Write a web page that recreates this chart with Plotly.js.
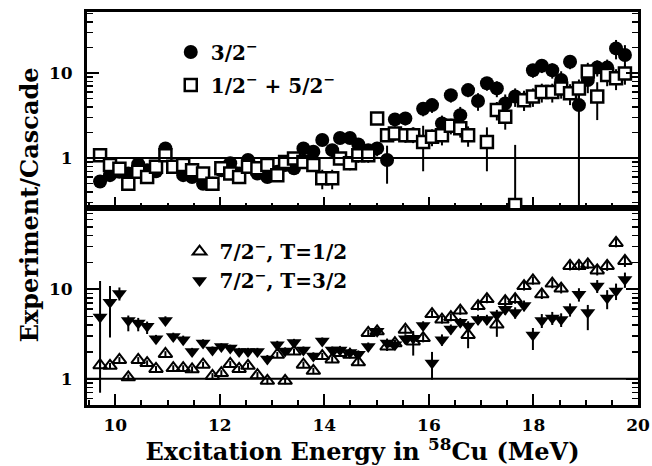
<!DOCTYPE html>
<html>
<head>
<meta charset="utf-8">
<script src="https://cdn.plot.ly/plotly-3.0.1.min.js"></script>
<style>
  html, body { margin: 0; padding: 0; background: #fff; }
  #chart { width: 652px; height: 466px; }
</style>
</head>
<body>
<div id="chart"></div>
<script>
// Bin centres (MeV) shared by all four spin groups
const energy = [9.71, 9.90, 10.08, 10.25, 10.44, 10.61, 10.78, 10.96, 11.11, 11.30,
  11.47, 11.68, 11.86, 12.03, 12.20, 12.37, 12.54, 12.72, 12.91, 13.10,
  13.25, 13.42, 13.60, 13.79, 13.96, 14.15, 14.30, 14.49, 14.65, 14.84,
  15.01, 15.20, 15.35, 15.55, 15.70, 15.89, 16.06, 16.25, 16.42, 16.60,
  16.75, 16.94, 17.11, 17.30, 17.46, 17.65, 17.82, 17.99, 18.16, 18.36,
  18.53, 18.70, 18.87, 19.04, 19.22, 19.41, 19.58, 19.75];

// Upper panel: 3/2- and 1/2- + 5/2-
const ratio32 = [0.53, 0.63, 0.69, 0.66, 0.85, 0.72, 0.70, 1.30, 0.79, 0.63,
  0.60, 0.50, 0.50, 0.72, 0.87, 0.66, 0.95, 0.66, 0.60, 0.69,
  0.83, 0.76, 1.30, 1.19, 1.63, 1.24, 1.72, 1.72, 1.45, 1.24,
  1.30, 0.95, 2.85, 2.93, 1.90, 3.8, 4.2, 2.56, 5.5, 3.2,
  6.3, 4.7, 7.6, 6.6, 4.4, 5.3, 4.9, 10.8, 12.2, 10.8,
  8.3, 13.6, 4.2, 8.3, 11.6, 11.6, 19.5, 16.3];
const err32Up = [0.04, 0.05, 0.05, 0.05, 0.06, 0.05, 0.05, 0.08, 0.05, 0.05,
  0.05, 0.04, 0.04, 0.05, 0.06, 0.05, 0.07, 0.05, 0.05, 0.06,
  0.07, 0.07, 0.18, 0.16, 0.22, 0.18, 0.25, 0.25, 0.22, 0.22,
  0.25, 0.45, 0.5, 0.5, 0.4, 0.7, 0.8, 0.6, 1.0, 0.8,
  1.1, 1.1, 1.4, 1.4, 1.2, 1.3, 1.3, 2.0, 2.2, 2.2,
  2.2, 2.5, 2.0, 2.5, 2.5, 2.8, 5.0, 5.0];
const err32Down = [0.04, 0.05, 0.05, 0.05, 0.06, 0.05, 0.05, 0.08, 0.05, 0.05,
  0.05, 0.04, 0.04, 0.05, 0.06, 0.05, 0.07, 0.05, 0.05, 0.06,
  0.07, 0.07, 0.18, 0.16, 0.22, 0.18, 0.25, 0.25, 0.22, 0.22,
  0.25, 0.45, 0.5, 0.5, 0.4, 0.7, 0.8, 0.6, 1.0, 0.8,
  1.1, 1.1, 1.4, 1.4, 1.2, 1.3, 1.3, 2.0, 2.2, 2.2,
  2.2, 2.5, 4.3, 2.5, 2.5, 2.8, 5.0, 5.0];

const ratio1252 = [1.08, 0.83, 0.75, 0.50, 0.69, 0.60, 0.79, 1.08, 0.79, 0.83,
  0.72, 0.66, 0.50, 0.76, 0.66, 0.60, 0.79, 0.76, 0.83, 0.63,
  0.90, 0.99, 0.90, 0.83, 0.58, 0.58, 0.99, 0.87, 1.08, 1.08,
  2.93, 1.86, 1.95, 1.86, 1.86, 1.55, 1.78, 1.86, 2.40, 2.24,
  1.86, null, 1.55, 3.67, 3.06, 0.28, 4.8, 5.3, 6.0, 6.0,
  6.6, 5.8, 6.6, 10.4, 5.3, 9.5, 8.7, 9.9];
const err1252Up = [0.06, 0.05, 0.05, 0.05, 0.05, 0.05, 0.05, 0.06, 0.05, 0.05,
  0.05, 0.05, 0.04, 0.05, 0.05, 0.05, 0.06, 0.06, 0.06, 0.05,
  0.08, 0.10, 0.10, 0.10, 0.15, 0.15, 0.15, 0.15, 0.2, 0.2,
  0.3, 0.3, 0.35, 0.35, 0.35, 0.85, 0.4, 0.45, 0.5, 0.5,
  0.5, 0, 0.75, 0.9, 0.9, 1.15, 1.2, 1.3, 1.5, 1.5,
  1.6, 1.6, 1.8, 2.8, 2.5, 2.5, 2.4, 2.6];
const err1252Down = [0.06, 0.05, 0.05, 0.05, 0.05, 0.05, 0.05, 0.06, 0.05, 0.05,
  0.05, 0.05, 0.04, 0.05, 0.05, 0.05, 0.06, 0.06, 0.06, 0.05,
  0.08, 0.10, 0.10, 0.10, 0.15, 0.15, 0.15, 0.15, 0.2, 0.2,
  0.3, 0.3, 0.35, 0.35, 0.35, 0.85, 0.4, 0.45, 0.5, 0.5,
  0.5, 0, 0.85, 0.9, 0.9, 0.1, 1.2, 1.3, 1.5, 1.5,
  1.6, 1.6, 1.8, 2.8, 2.5, 2.5, 2.4, 2.6];

// Lower panel: 7/2-, T=1/2 and 7/2-, T=3/2
const ratio72T12 = [1.42, 1.40, 1.63, 1.04, 1.63, 1.50, 1.29, 1.90, 1.32, 1.32,
  1.28, 1.44, 1.08, 1.16, 1.47, 1.29, 1.40, 1.10, 0.95, 1.86,
  0.95, 2.02, 1.44, 1.23, 1.80, 1.65, 1.94, 1.86, 1.53, 3.26,
  3.4, 2.3, 2.5, 3.55, 2.62, 2.86, 5.3, 4.6, 4.9, 5.8,
  3.1, 6.5, 7.8, 4.05, 7.4, 7.8, 10.9, 12.6, 8.8, 11.6,
  10.2, 18.3, 18.3, 19.0, 16.3, 18.3, 33, 20.8];
const err72T12 = [0.10, 0.10, 0.12, 0.08, 0.12, 0.11, 0.10, 0.14, 0.10, 0.10,
  0.10, 0.11, 0.08, 0.09, 0.11, 0.10, 0.11, 0.09, 0.08, 0.14,
  0.08, 0.16, 0.12, 0.10, 0.15, 0.14, 0.16, 0.15, 0.13, 0.3,
  0.3, 0.25, 0.25, 0.35, 0.8, 0.3, 0.5, 0.45, 0.5, 0.6,
  0.9, 0.7, 0.8, 1.1, 0.8, 0.9, 1.2, 1.3, 1.0, 1.3,
  1.2, 2.0, 2.0, 2.1, 2.0, 2.2, 3.5, 3.0];

const ratio72T32 = [4.9, 7.2, 9.0, 4.5, 4.2, 3.87, 2.8, 4.5, 2.98, 2.74,
  2.02, 2.52, 2.1, 2.3, 2.21, 2.02, 2.02, 2.02, 1.67, 2.41,
  2.05, 2.55, 2.1, 1.8, 2.65, 2.1, 2.1, 1.97, 1.88, 2.30,
  3.4, 2.52, 2.41, 2.8, 2.85, 3.95, 1.50, 2.74, 3.6, 4.3,
  3.9, 4.6, 4.6, 5.2, 6.0, 5.5, 6.6, 3.1, 4.5, 4.8,
  4.6, 5.96, 8.8, 5.5, 10.9, 8.0, 9.6, 12.9];
const err72T32Up = [7.5, 3.7, 1.5, 0.6, 0.6, 0.5, 0.3, 0.5, 0.3, 0.3,
  0.2, 0.25, 0.2, 0.2, 0.2, 0.2, 0.2, 0.2, 0.18, 0.25,
  0.2, 0.25, 0.2, 0.18, 0.25, 0.2, 0.2, 0.2, 0.2, 0.25,
  0.35, 0.3, 0.3, 0.35, 0.35, 0.45, 0.5, 0.4, 0.45, 0.5,
  0.5, 0.6, 0.6, 0.7, 0.8, 0.8, 0.9, 0.6, 0.8, 0.8,
  0.8, 1.0, 1.5, 1.2, 1.8, 1.8, 2.0, 2.5];
const err72T32Down = [4.2, 4.3, 1.5, 1.1, 0.8, 0.7, 0.3, 0.5, 0.3, 0.3,
  0.2, 0.25, 0.2, 0.2, 0.2, 0.2, 0.2, 0.2, 0.18, 0.25,
  0.2, 0.25, 0.2, 0.18, 0.25, 0.2, 0.2, 0.2, 0.2, 0.25,
  0.35, 0.3, 0.3, 0.35, 0.35, 0.45, 0.52, 0.4, 0.45, 0.5,
  0.5, 0.6, 0.6, 0.7, 0.8, 0.8, 0.9, 1.0, 0.8, 0.8,
  0.8, 1.0, 1.5, 2.0, 1.8, 2.0, 2.0, 2.5];

const FONT = 'DejaVu Serif, Liberation Serif, serif';
const INK = '#000';

function errBars(up, down) {
  return { type: 'data', symmetric: false, array: up, arrayminus: down,
           color: INK, thickness: 2, width: 0 };
}

const traces = [
  {
    x: energy, y: ratio32, xaxis: 'x2', yaxis: 'y2', type: 'scatter', mode: 'markers',
    name: '3/2<sup>−</sup>', legend: 'legend2', legendgroup: 'a',
    marker: { symbol: 'circle', size: 14, color: INK, line: { width: 0 } },
    error_y: errBars(err32Up, err32Down)
  },
  {
    x: energy, y: ratio1252, xaxis: 'x2', yaxis: 'y2', type: 'scatter', mode: 'markers',
    name: '1/2<sup>−</sup> + 5/2<sup>−</sup>', legend: 'legend2', legendgroup: 'b',
    marker: { symbol: 'square', size: 12, color: '#fff', line: { width: 2.5, color: INK } },
    error_y: errBars(err1252Up, err1252Down)
  },
  {
    x: energy, y: ratio72T12, xaxis: 'x', yaxis: 'y', type: 'scatter', mode: 'markers',
    name: '7/2<sup>−</sup>, T=1/2', legend: 'legend', legendgroup: 'c',
    marker: { symbol: 'triangle-up', size: 12, color: 'rgba(255,255,255,0)', line: { width: 2, color: INK } },
    error_y: errBars(err72T12, err72T12)
  },
  {
    x: energy, y: ratio72T32, xaxis: 'x', yaxis: 'y', type: 'scatter', mode: 'markers',
    name: '7/2<sup>−</sup>, T=3/2', legend: 'legend', legendgroup: 'd',
    marker: { symbol: 'triangle-down', size: 13, color: INK, line: { width: 0 } },
    error_y: errBars(err72T32Up, err72T32Down)
  }
];

const tickFont = { family: FONT, size: 17, color: INK, weight: 'bold' };

const xCommon = {
  range: [9.46, 20],
  showgrid: false, zeroline: false,
  showline: true, linewidth: 3, linecolor: INK, mirror: true,
  ticks: 'inside', ticklen: 11, tickwidth: 2, tickcolor: INK,
  tick0: 10, dtick: 2,
  minor: { ticks: 'inside', dtick: 0.5, tick0: 10, ticklen: 5, tickwidth: 2, tickcolor: INK },
  tickfont: tickFont
};

const yCommon = {
  type: 'log', dtick: 1,
  showgrid: false, zeroline: false,
  showline: true, linewidth: 3, linecolor: INK, mirror: 'ticks',
  ticks: 'inside', ticklen: 12, tickwidth: 2, tickcolor: INK,
  minor: { ticks: 'inside', dtick: 'D1', ticklen: 6, tickwidth: 1.5, tickcolor: INK },
  tickfont: tickFont, ticklabelstandoff: 8
};

const legendFont = { family: FONT, size: 20, color: INK, weight: 'bold' };

const layout = {
  width: 652, height: 466,
  margin: { l: 87, r: 14, t: 12, b: 61 },
  paper_bgcolor: '#fff', plot_bgcolor: '#fff',
  font: { family: FONT, color: INK },
  showlegend: true,
  xaxis: Object.assign({}, xCommon, {
    anchor: 'y', domain: [0, 1], ticklabelstandoff: 3,
    title: { text: 'Excitation Energy in <sup>58</sup>Cu (MeV)',
             font: { family: FONT, size: 24, color: INK, weight: 'bold' }, standoff: 5 }
  }),
  xaxis2: Object.assign({}, xCommon, {
    anchor: 'y2', domain: [0, 1], matches: 'x', showticklabels: false
  }),
  yaxis: Object.assign({}, yCommon, {
    anchor: 'x', domain: [0, 0.501], range: [-0.292, 1.908]
  }),
  yaxis2: Object.assign({}, yCommon, {
    anchor: 'x2', domain: [0.501, 1], range: [-0.588, 1.718]
  }),
  legend: {
    x: 0.168, y: 0.44, xanchor: 'left', yanchor: 'top',
    bgcolor: 'rgba(0,0,0,0)', borderwidth: 0, itemwidth: 30,
    font: legendFont, tracegroupgap: 0
  },
  legend2: {
    x: 0.152, y: 0.948, xanchor: 'left', yanchor: 'top',
    bgcolor: 'rgba(0,0,0,0)', borderwidth: 0, itemwidth: 30,
    font: legendFont, tracegroupgap: 4
  },
  shapes: [
    { type: 'line', xref: 'paper', x0: 0, x1: 1, yref: 'y2', y0: 1, y1: 1,
      line: { color: INK, width: 2 } },
    { type: 'line', xref: 'paper', x0: 0, x1: 1, yref: 'y', y0: 1, y1: 1,
      line: { color: INK, width: 2 } }
  ],
  annotations: [
    { text: 'Experiment/Cascade', xref: 'paper', yref: 'paper',
      x: -0.104, y: 0.51, xanchor: 'center', yanchor: 'middle', textangle: -90,
      showarrow: false, font: { family: FONT, size: 24, color: INK, weight: 'bold' } }
  ]
};

Plotly.newPlot('chart', traces, layout, { displayModeBar: false, staticPlot: true });
</script>
</body>
</html>
